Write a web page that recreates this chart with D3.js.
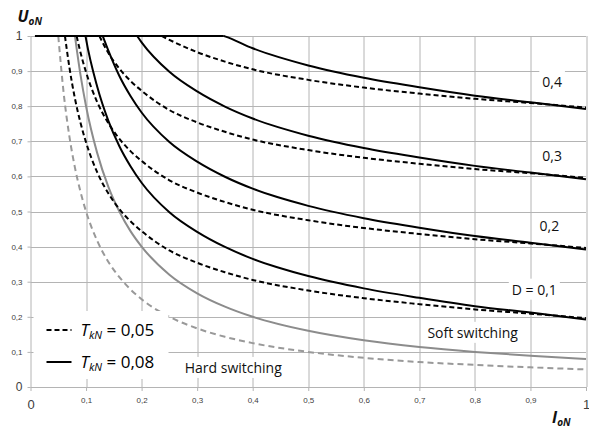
<!DOCTYPE html>
<html>
<head>
<meta charset="utf-8">
<script src="https://cdn.jsdelivr.net/npm/d3@7"></script>
<style>
  body { margin: 0; background: #fff; }
  svg { display: block; font-family: "Open Sans", sans-serif; }
  .grid line { stroke: #b4b4b4; stroke-width: 1; }
  .axis path { display: none; }
  .axis line { stroke: #b4b4b4; }
  .axis text { fill: #404040; font-size: 8px; }
  .curve { fill: none; stroke-width: 2; }
  .lbl { font-size: 14px; fill: #111; }
</style>
</head>
<body>
<div id="chart"></div>
<script>
// normalised output current I_oN, common sample points
var ioN = [0.05, 0.06, 0.07, 0.08, 0.09, 0.1, 0.12, 0.14, 0.16, 0.18, 0.2, 0.25, 0.3, 0.35, 0.4, 0.5, 0.6, 0.7, 0.8, 0.9, 1];

// U_oN values (null = still on the U = 1 limit)
var solid01 = [null, null, null, null, null, 0.991, 0.856, 0.759, 0.686, 0.629, 0.582, 0.498, 0.442, 0.399, 0.365, 0.316, 0.281, 0.254, 0.230, 0.212, 0.192];
var solid02 = [null, null, null, null, null, null, null, 0.959, 0.886, 0.829, 0.782, 0.698, 0.642, 0.599, 0.565, 0.516, 0.481, 0.454, 0.430, 0.411, 0.392];
var solid03 = [null, null, null, null, null, null, null, null, null, null, 0.982, 0.898, 0.842, 0.799, 0.765, 0.716, 0.681, 0.654, 0.630, 0.611, 0.592];
var solid04 = [null, null, null, null, null, null, null, null, null, null, null, null, null, 0.999, 0.965, 0.916, 0.881, 0.854, 0.830, 0.811, 0.792];
var dashed01 = [null, null, 0.911, 0.822, 0.753, 0.697, 0.612, 0.552, 0.507, 0.472, 0.444, 0.389, 0.354, 0.327, 0.305, 0.275, 0.253, 0.236, 0.221, 0.209, 0.196];
var dashed02 = [null, null, null, null, 0.953, 0.897, 0.812, 0.752, 0.707, 0.672, 0.644, 0.589, 0.554, 0.527, 0.505, 0.475, 0.453, 0.436, 0.421, 0.409, 0.396];
var dashed03 = [null, null, null, null, null, null, null, 0.952, 0.907, 0.872, 0.844, 0.789, 0.754, 0.727, 0.705, 0.675, 0.653, 0.636, 0.621, 0.609, 0.596];
var dashed04 = [null, null, null, null, null, null, null, null, null, null, null, 0.989, 0.954, 0.927, 0.905, 0.875, 0.853, 0.836, 0.821, 0.809, 0.796];
var hardSolid = [null, null, null, null, 0.889, 0.80, 0.667, 0.571, 0.50, 0.444, 0.40, 0.32, 0.267, 0.229, 0.20, 0.16, 0.133, 0.114, 0.10, 0.089, 0.08];
var hardDashed = [null, 0.833, 0.714, 0.625, 0.556, 0.50, 0.417, 0.357, 0.313, 0.278, 0.25, 0.20, 0.167, 0.143, 0.125, 0.10, 0.083, 0.071, 0.063, 0.056, 0.05];

// I_oN where each curve leaves U = 1
var leaveTop = {solid01: 0.099, solid02: 0.13, solid03: 0.192, solid04: 0.348,
                dashed01: 0.062, dashed02: 0.083, dashed03: 0.124, dashed04: 0.236,
                hardSolid: 0.08, hardDashed: 0.05};
var topFrom = 0.008;

var tickValues = [0, 0.1, 0.2, 0.3, 0.4, 0.5, 0.6, 0.7, 0.8, 0.9, 1];

var margin = {top: 36, right: 3, bottom: 44, left: 30.5},
    width = 589 - margin.left - margin.right,
    height = 431 - margin.top - margin.bottom;

var x = d3.scaleLinear().domain([0, 1]).range([0, width]);
var y = d3.scaleLinear().domain([0, 1]).range([height, 0]);

var comma = function(d) { return d === 0 || d === 1 ? String(d) : d3.format(".1f")(d).replace(".", ","); };

var svg = d3.select("#chart").append("svg")
    .attr("width", 589)
    .attr("height", 431)
  .append("g")
    .attr("transform", "translate(" + margin.left + "," + margin.top + ")");

// gridlines
var grid = svg.append("g").attr("class", "grid");
grid.selectAll("line.v").data(tickValues).enter().append("line")
    .attr("class", "v")
    .attr("x1", function(d) { return Math.round(x(d)) + 0.5; })
    .attr("x2", function(d) { return Math.round(x(d)) + 0.5; })
    .attr("y1", 0).attr("y2", height);
grid.selectAll("line.h").data(tickValues).enter().append("line")
    .attr("class", "h")
    .attr("y1", function(d) { return Math.round(y(d)) + 0.5; })
    .attr("y2", function(d) { return Math.round(y(d)) + 0.5; })
    .attr("x1", 0).attr("x2", width);

// axes
var xAxis = svg.append("g").attr("class", "axis")
    .attr("transform", "translate(0," + height + ")")
    .call(d3.axisBottom(x).tickValues(tickValues).tickFormat(comma).tickSize(4).tickPadding(6));
xAxis.selectAll("text")
    .filter(function(d) { return d === 0 || d === 1; })
    .style("font-size", "13px").attr("dy", "0.9em");

var yAxis = svg.append("g").attr("class", "axis")
    .call(d3.axisLeft(y).tickValues(tickValues).tickFormat(comma).tickSize(3).tickPadding(5));
yAxis.selectAll("text")
    .filter(function(d) { return d === 0 || d === 1; })
    .style("font-size", "12px");

// the "0,9" label is clipped at the left edge in the original
svg.append("rect").attr("x", -margin.left).attr("y", y(0.9) - 7).attr("width", 9.5).attr("height", 14).attr("fill", "#fff");

function series(vals, key) {
  var pts = [{i: leaveTop[key], u: 1}];
  ioN.forEach(function(v, k) {
    if (vals[k] !== null && v > leaveTop[key]) pts.push({i: v, u: vals[k]});
  });
  return pts;
}

var line = d3.line()
    .curve(d3.curveMonotoneX)
    .x(function(d) { return x(d.i); })
    .y(function(d) { return y(d.u); });

var curves = [
  {key: "hardDashed", vals: hardDashed, color: "#999", dash: "6,4"},
  {key: "hardSolid", vals: hardSolid, color: "#8c8c8c", dash: null},
  {key: "dashed01", vals: dashed01, color: "#000", dash: "5,3"},
  {key: "dashed02", vals: dashed02, color: "#000", dash: "5,3"},
  {key: "dashed03", vals: dashed03, color: "#000", dash: "5,3"},
  {key: "dashed04", vals: dashed04, color: "#000", dash: "5,3"},
  {key: "solid01", vals: solid01, color: "#000", dash: null},
  {key: "solid02", vals: solid02, color: "#000", dash: null},
  {key: "solid03", vals: solid03, color: "#000", dash: null},
  {key: "solid04", vals: solid04, color: "#000", dash: null}
];

svg.selectAll("path.curve").data(curves).enter().append("path")
    .attr("class", "curve")
    .attr("stroke", function(d) { return d.color; })
    .attr("stroke-dasharray", function(d) { return d.dash; })
    .attr("d", function(d) { return line(series(d.vals, d.key)); });

// U = 1 limit shared by all curves
svg.append("path")
    .attr("class", "curve")
    .attr("stroke", "#000")
    .attr("stroke-width", 2.5)
    .attr("d", d3.line().x(function(d) { return x(d); }).y(y(1))([topFrom, d3.max(Object.values(leaveTop))]));

// legend box (white, hides the grid and the grey curve behind it)
var leg = svg.append("g");
leg.append("rect").attr("x", 3).attr("y", 275).attr("width", 135).attr("height", 68).attr("fill", "#fff");
[{yy: 294, dash: "5,3", val: "0,05"}, {yy: 326, dash: null, val: "0,08"}].forEach(function(r) {
  leg.append("line").attr("x1", 16).attr("x2", 41).attr("y1", r.yy).attr("y2", r.yy)
      .attr("stroke", "#000").attr("stroke-width", 2).attr("stroke-dasharray", r.dash);
  var t = leg.append("text").attr("x", 50).attr("y", r.yy).attr("dy", "0.35em")
      .style("font-size", "17px").attr("fill", "#000");
  t.append("tspan").style("font-style", "italic").text("T");
  t.append("tspan").style("font-style", "italic").style("font-size", "11px").attr("dy", "3").text("kN");
  t.append("tspan").attr("dy", "-3").text(" = " + r.val);
});

// text labels on white boxes
var labels = [
  {t: "0,4", i: 0.939, u: 0.869},
  {t: "0,3", i: 0.939, u: 0.658},
  {t: "0,2", i: 0.934, u: 0.459},
  {t: "D = 0,1", i: 0.907, u: 0.277},
  {t: "Soft switching", i: 0.796, u: 0.154},
  {t: "Hard switching", i: 0.365, u: 0.054}
];
labels.forEach(function(l) {
  var g = svg.append("g");
  var txt = g.append("text").attr("class", "lbl")
      .attr("x", x(l.i)).attr("y", y(l.u)).attr("dy", "0.35em")
      .attr("text-anchor", "middle").text(l.t);
  var bb = txt.node().getBBox();
  g.insert("rect", "text").attr("x", bb.x - 3).attr("y", bb.y - 1)
      .attr("width", bb.width + 6).attr("height", bb.height + 2).attr("fill", "#fff");
});

// axis titles
var ut = svg.append("text").attr("x", -13).attr("y", -14)
    .style("font-weight", "bold").style("font-style", "italic").style("font-size", "16px").attr("fill", "#111");
ut.append("tspan").text("U");
ut.append("tspan").style("font-size", "10px").attr("dy", "3").text("oN");

var it = svg.append("text").attr("x", width - 34).attr("y", height + 36)
    .style("font-weight", "bold").style("font-style", "italic").style("font-size", "16px").attr("fill", "#111");
it.append("tspan").text("I");
it.append("tspan").style("font-size", "10px").attr("dy", "3").text("oN");
</script>
</body>
</html>
